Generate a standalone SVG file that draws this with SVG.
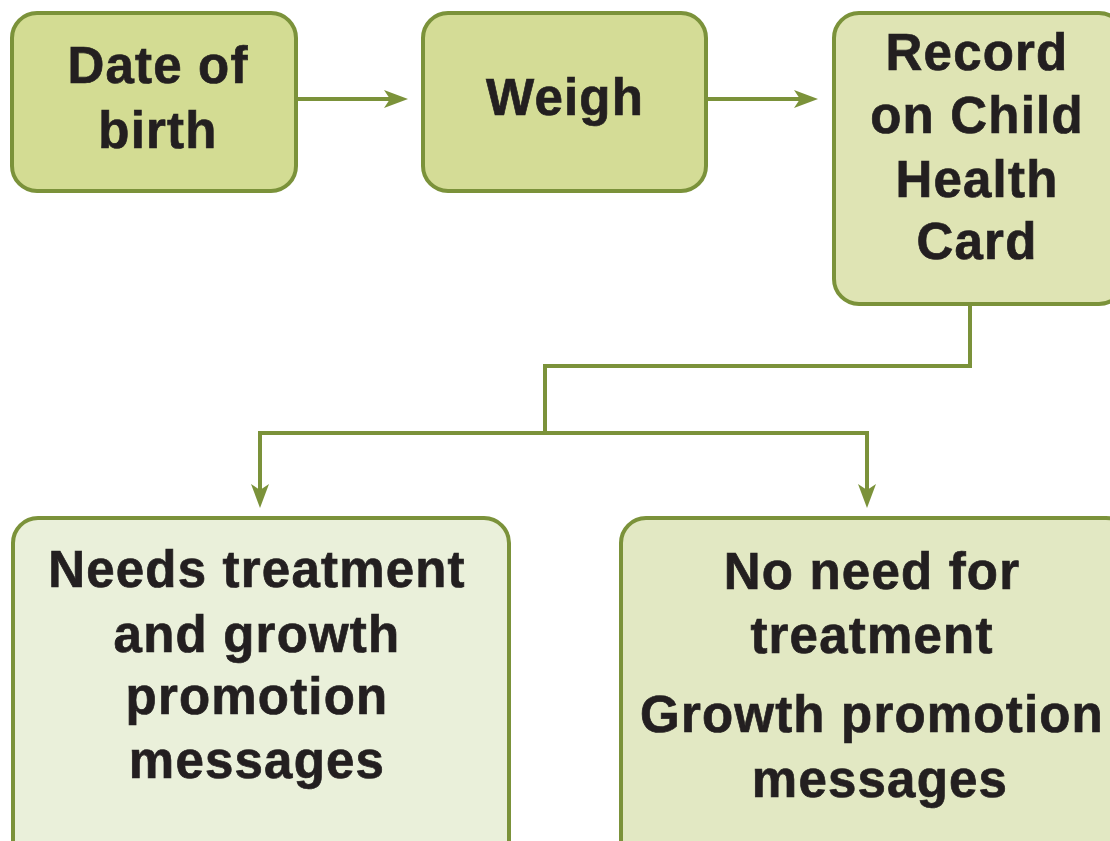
<svg xmlns="http://www.w3.org/2000/svg" width="1110" height="841" viewBox="0 0 1110 841">
<style>
.box{stroke:#7b923a;stroke-width:4}
.t{font-family:"Liberation Sans",Arial,sans-serif;font-weight:bold;font-size:51px;fill:#231f20;stroke:#231f20;stroke-width:0.7;text-anchor:middle;letter-spacing:1.2px}
.c{fill:none;stroke:#7b923a;stroke-width:4}
</style>
<defs>
<marker id="ah" viewBox="0 0 24 18" refX="9" refY="9" markerWidth="24" markerHeight="18" markerUnits="userSpaceOnUse" orient="auto">
<path d="M0,0 L24,9 L0,18 L6,9 Z" fill="#7b923a"/>
</marker>
</defs>
<rect width="1110" height="841" fill="#ffffff"/>
<g id="connectors">
<line class="c" x1="296" y1="99" x2="393" y2="99" marker-end="url(#ah)"/>
<line class="c" x1="706" y1="99" x2="803" y2="99" marker-end="url(#ah)"/>
<polyline class="c" points="970,304 970,366 545,366 545,433"/>
<polyline class="c" points="260,493 260,433 867,433 867,493"/>
<line class="c" x1="260" y1="470" x2="260" y2="493" marker-end="url(#ah)"/>
<line class="c" x1="867" y1="470" x2="867" y2="493" marker-end="url(#ah)"/>
</g>
<g id="node-dob">
<rect class="box" x="12" y="13" width="284" height="178" rx="25" fill="#d3dc93"/>
<text class="t" x="158" y="83">Date of</text>
<text class="t" x="158" y="148">birth</text>
</g>
<g id="node-weigh">
<rect class="box" x="423" y="13" width="283" height="178" rx="25" fill="#d4dc96"/>
<text class="t" x="565" y="115">Weigh</text>
</g>
<g id="node-record">
<rect class="box" x="834" y="13" width="290" height="291" rx="25" fill="#dfe4b4"/>
<text class="t" x="977" y="70">Record</text>
<text class="t" x="977" y="133">on Child</text>
<text class="t" x="977" y="197">Health</text>
<text class="t" x="977" y="259">Card</text>
</g>
<g id="node-needs">
<rect class="box" x="13" y="518" width="496" height="360" rx="25" fill="#eaf0da"/>
<text class="t" x="257" y="587">Needs treatment</text>
<text class="t" x="257" y="652">and growth</text>
<text class="t" x="257" y="714">promotion</text>
<text class="t" x="257" y="778">messages</text>
</g>
<g id="node-noneed">
<rect class="box" x="621" y="518" width="510" height="360" rx="25" fill="#e2e8c3"/>
<text class="t" x="872" y="589">No need for</text>
<text class="t" x="872" y="653">treatment</text>
<text class="t" x="872" y="732">Growth promotion</text>
<text class="t" x="880" y="797">messages</text>
</g>
</svg>
